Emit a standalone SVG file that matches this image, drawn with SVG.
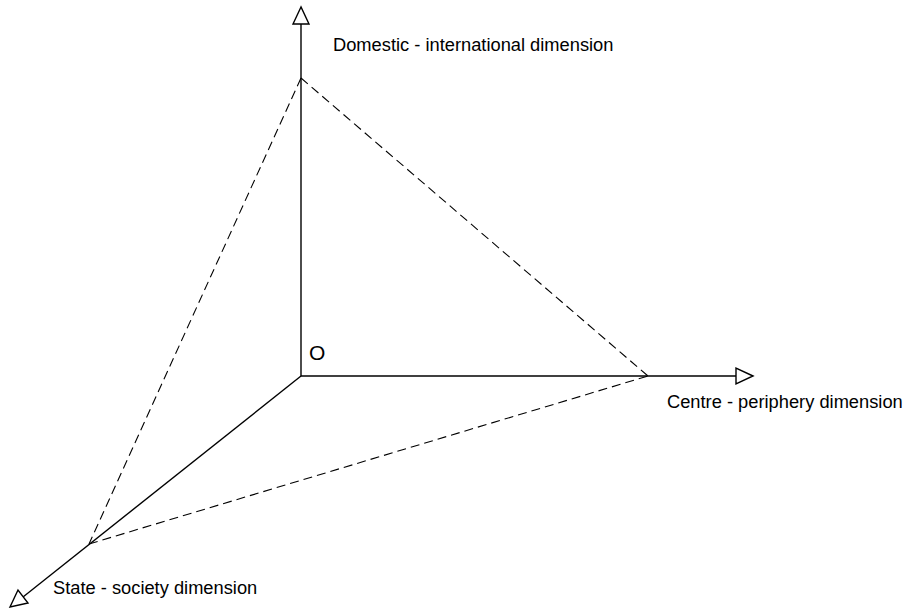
<svg xmlns="http://www.w3.org/2000/svg" width="911" height="609" viewBox="0 0 911 609">
<style>
.axis{stroke:#000;stroke-width:1.4;fill:none}
.dash{stroke:#000;stroke-width:1.1;fill:none;stroke-dasharray:9 5}
.head{stroke:#000;stroke-width:1.4;fill:#fff;stroke-linejoin:miter}
text{font-family:"Liberation Sans",Arial,sans-serif;font-size:18.3px;fill:#000}
</style>
<rect width="911" height="609" fill="#fff"/>
<g id="connectors">
<line class="axis" x1="301" y1="376" x2="301" y2="24"/>
<line class="axis" x1="301" y1="376" x2="736" y2="376"/>
<line class="axis" x1="301" y1="376" x2="23" y2="597"/>
<line class="dash" x1="301" y1="78" x2="648" y2="376"/>
<line class="dash" x1="301" y1="78" x2="89" y2="544"/>
<line class="dash" x1="89" y1="544" x2="648" y2="376"/>
<polygon class="head" points="301,7 293,24 309,24"/>
<polygon class="head" points="753,376 736,368 736,384"/>
<polygon class="head" points="10,607 18,590 28,603"/>
</g>
<g id="origin"><text x="309" y="360" style="font-size:21px">O</text></g>
<g id="domestic"><text x="333" y="51">Domestic - international dimension</text></g>
<g id="centre"><text x="667" y="408">Centre - periphery dimension</text></g>
<g id="state"><text x="53" y="594">State - society dimension</text></g>
</svg>
